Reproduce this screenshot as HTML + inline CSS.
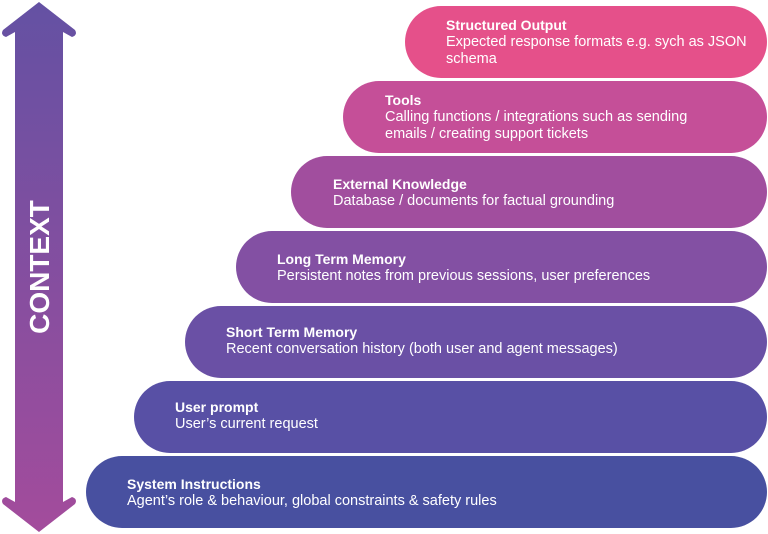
<!DOCTYPE html>
<html><head><meta charset="utf-8"><style>
body{margin:0;width:768px;height:534px;background:#fff;position:relative;overflow:hidden;font-family:"Liberation Sans",sans-serif}
.p{position:absolute;right:1px;height:72px;border-radius:36px;color:#fff;box-sizing:border-box;font-size:14.5px;line-height:17px;padding-top:11px;white-space:nowrap}
.p b{display:block;font-size:14px;line-height:17px}
</style></head><body>
<svg width="80" height="534" style="position:absolute;left:0;top:0">
<defs><linearGradient id="g" x1="0" y1="0" x2="0" y2="1"><stop offset="0" stop-color="#6451a3"/><stop offset="1" stop-color="#a34c9c"/></linearGradient></defs>
<path d="M39 2 L75 30 Q78 35 72 37 L63 32 L63 502 L72 497 Q78 499 75 504 L39 532 L3 504 Q0 499 6 497 L15 502 L15 32 L6 37 Q0 35 3 30 Z" fill="url(#g)"/>
<text x="0" y="0" transform="translate(49,267) rotate(-90)" text-anchor="middle" fill="#fff" font-family="Liberation Sans" font-weight="bold" font-size="28">CONTEXT</text>
</svg>
<div class="p" style="left:405px;top:6px;background:#e5508a;padding-left:41px"><b>Structured Output</b>Expected response formats e.g. sych as JSON<br>schema</div>
<div class="p" style="left:343px;top:81px;background:#c54f98;padding-left:42px"><b>Tools</b>Calling functions / integrations such as sending<br>emails / creating support tickets</div>
<div class="p" style="left:291px;top:156px;background:#a14e9e;padding-left:42px;padding-top:20px"><b>External Knowledge</b>Database / documents for factual grounding</div>
<div class="p" style="left:236px;top:231px;background:#8350a3;padding-left:41px;padding-top:20px"><b>Long Term Memory</b>Persistent notes from previous sessions, user preferences</div>
<div class="p" style="left:185px;top:306px;background:#6a50a5;padding-left:41px;padding-top:18px"><b>Short Term Memory</b>Recent conversation history (both user and agent messages)</div>
<div class="p" style="left:134px;top:381px;background:#5850a5;padding-left:41px;padding-top:18px"><b>User prompt</b>User’s current request</div>
<div class="p" style="left:86px;top:456px;background:#4850a0;padding-left:41px;padding-top:20px"><b>System Instructions</b>Agent’s role &amp; behaviour, global constraints &amp; safety rules</div>
</body></html>
